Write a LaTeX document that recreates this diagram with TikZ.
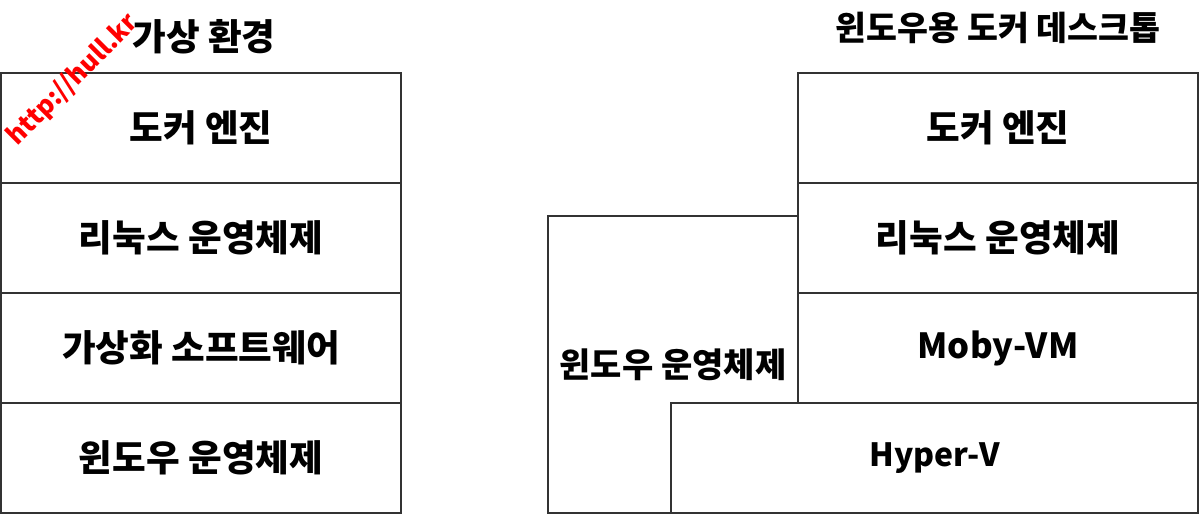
\documentclass[tikz,border=0pt]{standalone}
\usepackage{fontspec}
\setmainfont{Noto Sans CJK KR}

\begin{document}
\begin{tikzpicture}[x=0.5pt, y=-0.5pt, font=\bfseries\fontsize{18.3}{22}\selectfont,
	layer/.style={rectangle, draw=black!80, line width=0.75pt, fill=white, inner sep=0pt,
		minimum width=200pt, minimum height=55pt}]
	\useasboundingbox (0,0) rectangle (1200,514);
	% titles
	\node (VT) at (204, 37)	{가상 환경};
	\node (DT) at (998, 28)	[font=\bfseries\fontsize{16.8}{20}\selectfont]	{윈도우용 도커 데스크톱};
	% virtual environment stack
	\node (VE) at (201, 128)	[layer]	{도커 엔진};
	\node (VL) at (201, 238)	[layer]	{리눅스 운영체제};
	\node (VS) at (201, 348)	[layer]	{가상화 소프트웨어};
	\node (VW) at (201, 458)	[layer]	{윈도우 운영체제};
	% docker desktop stack
	\node (DE) at (998, 128)	[layer]	{도커 엔진};
	\node (DL) at (998, 238)	[layer]	{리눅스 운영체제};
	\node (DM) at (998, 348)	[layer, font=\bfseries\fontsize{17.3}{21}\selectfont]	{Moby-VM};
	\node (DW) at (673, 364.5)	[layer, minimum width=125pt, minimum height=148.5pt, font=\bfseries\fontsize{17}{20}\selectfont]	{윈도우 운영체제};
	\node (DH) at (934.5, 458)	[layer, minimum width=263.5pt, font=\bfseries\fontsize{16}{19}\selectfont]	{Hyper-V};
	% watermark
	\node (WM) at (73, 80)	[rotate=45, text=red, font=\bfseries\fontsize{12.8}{15}\selectfont]	{http://hull.kr};
\end{tikzpicture}
\end{document}
